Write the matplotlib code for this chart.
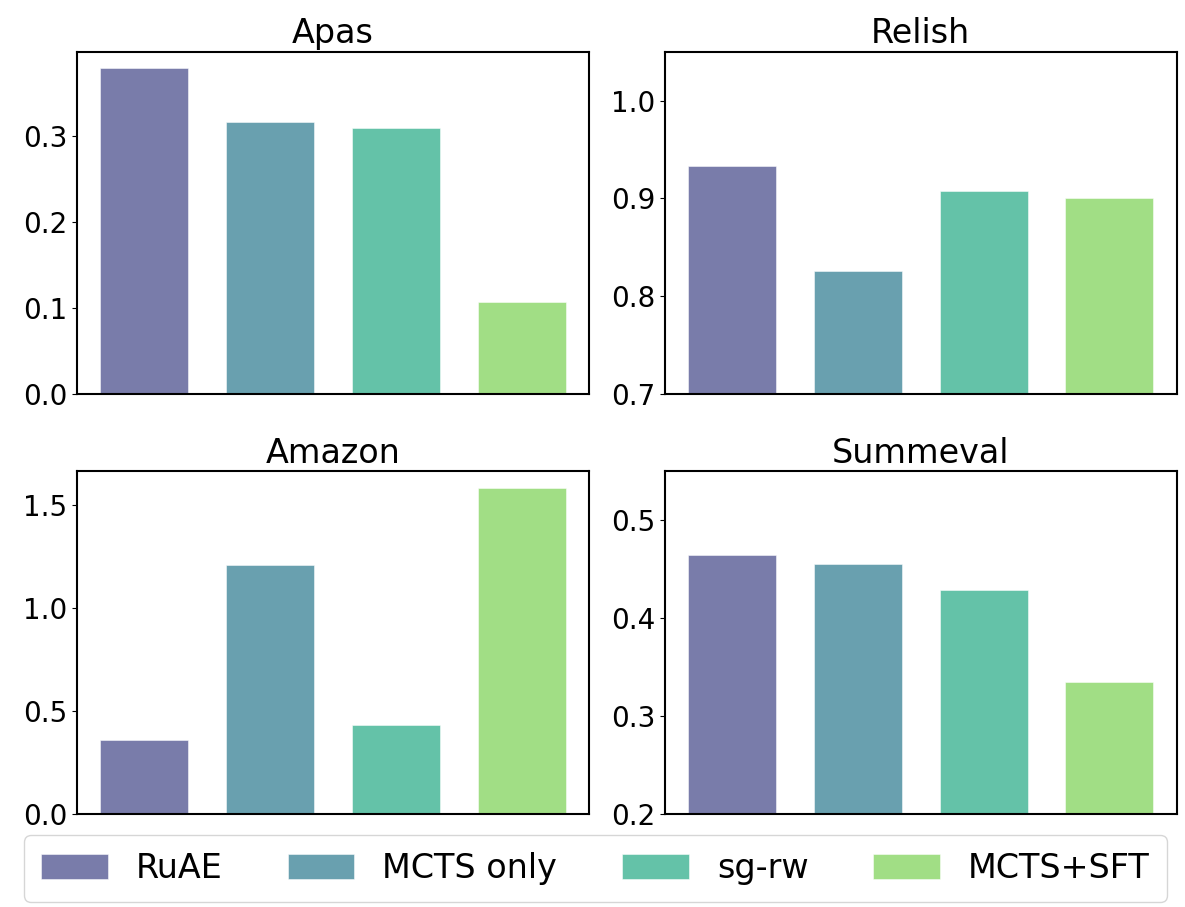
import numpy as np
import matplotlib.pyplot as plt
from matplotlib.ticker import MultipleLocator

methods = ['RuAE', 'MCTS only', 'sg-rw', 'MCTS+SFT']
datasets = ['Apas', 'Relish', 'Amazon', 'Summeval']
apas = [0.379, 0.316, 0.309, 0.107]
relish = [0.933, 0.826, 0.907, 0.900]
amazon = [0.358, 1.207, 0.430, 1.583]
summeval = [0.465, 0.455, 0.429, 0.335]
values = [apas, relish, amazon, summeval]
ylims = [None, (0.7, 1.05), None, (0.2, 0.55)]
ysteps = [0.1, 0.1, 0.5, 0.1]

colors = plt.cm.viridis(np.linspace(0.2, 0.8, 4))

fig, axes = plt.subplots(2, 2, figsize=(11.85, 9.07), dpi=100)
x = np.arange(len(methods))
for ax, name, vals, lim, step in zip(axes.flat, datasets, values, ylims, ysteps):
    bars = ax.bar(x, vals, width=0.7, color=colors, alpha=0.7,
                  edgecolor='white', linewidth=0.5)
    ax.set_title(name, fontsize=24)
    ax.set_xticks([])
    ax.yaxis.set_major_locator(MultipleLocator(step))
    ax.tick_params(axis='y', labelsize=20)
    if lim is not None:
        ax.set_ylim(*lim)
    for s in ax.spines.values():
        s.set_linewidth(1.5)

fig.subplots_adjust(left=0.065, right=0.993, top=0.943, bottom=0.103,
                    wspace=0.148, hspace=0.227)
fig.legend(bars, methods, loc='center', ncol=4, fontsize=24,
           bbox_to_anchor=(0.5025, 0.0424), handlelength=2.0, handleheight=0.8,
           handletextpad=0.84, columnspacing=1.95, borderpad=0.5,
           fancybox=True, edgecolor='#cccccc')
fig.savefig('out.png')
